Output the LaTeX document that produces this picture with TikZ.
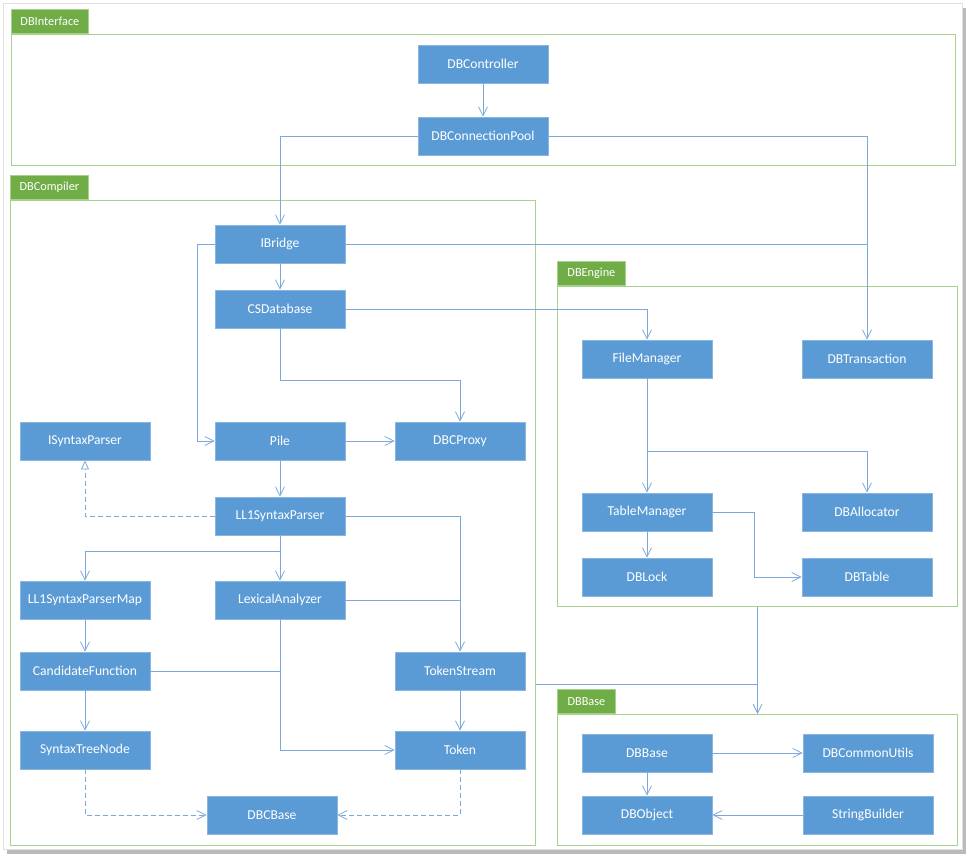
\documentclass[tikz,border=0pt]{standalone}
\usepackage{fontspec}
\setmainfont{Carlito}
\usetikzlibrary{arrows.meta,shadows,calc}
\definecolor{nodefill}{RGB}{91,155,213}
\definecolor{nodeedge}{RGB}{140,182,226}
\definecolor{connc}{RGB}{125,168,218}
\definecolor{pkgedge}{RGB}{169,209,142}
\definecolor{tabfill}{RGB}{112,173,71}
\tikzset{
  cls/.style={rectangle, fill=nodefill, draw=nodeedge, line width=0.8pt,
    minimum width=130pt, minimum height=38pt, inner sep=0pt,
    text=white, font=\fontsize{13.6}{16}\selectfont},
  pkg/.style={rectangle, draw=pkgedge, line width=1.2pt, fill=none,
    anchor=north west, inner sep=0pt},
  tab/.style={rectangle, fill=tabfill, draw=pkgedge, line width=0.8pt,
    anchor=south west, minimum height=24pt, inner sep=0pt,
    text=white, font=\fontsize{12.3}{14}\selectfont},
  wire/.style={draw=connc, line width=0.9pt},
  conn/.style={wire, -{Straight Barb[length=9pt,width=9pt,line width=0.8pt]}},
  dconn/.style={wire, dash pattern=on 5pt off 3pt, -{Straight Barb[length=9pt,width=9pt,line width=0.8pt]}},
  real/.style={wire, dash pattern=on 5pt off 3pt, -{Triangle[open,length=9pt,width=8pt,line width=0.8pt,fill=white]}},
}
\begin{document}
\begin{tikzpicture}[x=1pt,y=-1pt]
\useasboundingbox (0,0) rectangle (976,864);
% page
\path[fill=white, draw=black!12, line width=0.6pt,
  drop shadow={shadow xshift=4pt, shadow yshift=-5pt, opacity=0.45, fill=black!60}]
  (3,3) rectangle (962,849);
% packages
\node[pkg, minimum width=944pt, minimum height=131pt] (iface) at (11,34) {};
\node[tab, minimum width=77pt] (ifacetab) at (iface.north west) {DBInterface};
\node[pkg, minimum width=525pt, minimum height=645pt] (comp) at (10,200) {};
\node[tab, minimum width=78pt] (comptab) at (comp.north west) {DBCompiler};
\node[pkg, minimum width=400pt, minimum height=320pt] (engine) at (557,286) {};
\node[tab, minimum width=68pt] (enginetab) at (engine.north west) {DBEngine};
\node[pkg, minimum width=400pt, minimum height=131pt] (base) at (557,714) {};
\node[tab, minimum width=58pt] (basetab) at (base.north west) {DBBase};
% classes
\node[cls] (ctrl) at (483,64) {DBController};
\node[cls] (pool) at (483,136) {DBConnectionPool};
\node[cls] (ibridge) at (280,244) {IBridge};
\node[cls] (csdb) at (280,309) {CSDatabase};
\node[cls] (pile) at (280,441) {Pile};
\node[cls] (proxy) at (460,441) {DBCProxy};
\node[cls] (isp) at (85,441) {ISyntaxParser};
\node[cls] (ll1) at (280,516) {LL1SyntaxParser};
\node[cls] (map) at (85,600) {LL1SyntaxParserMap};
\node[cls] (lex) at (280,600) {LexicalAnalyzer};
\node[cls] (cand) at (85,671) {CandidateFunction};
\node[cls] (ts) at (460,671) {TokenStream};
\node[cls] (stn) at (85,750) {SyntaxTreeNode};
\node[cls] (token) at (460,750) {Token};
\node[cls] (dbcbase) at (272,815) {DBCBase};
\node[cls] (filemgr) at (647,359) {FileManager};
\node[cls] (trans) at (867,359) {DBTransaction};
\node[cls] (tablemgr) at (647,512) {TableManager};
\node[cls] (alloc) at (867,512) {DBAllocator};
\node[cls] (lock) at (647,577) {DBLock};
\node[cls] (dbtable) at (867,577) {DBTable};
\node[cls] (dbbase) at (647,753) {DBBase};
\node[cls] (utils) at (868,753) {DBCommonUtils};
\node[cls] (object) at (647,815) {DBObject};
\node[cls] (sb) at (868,815) {StringBuilder};
% helper coordinates
\coordinate (csturn) at (460,380);
\coordinate (j) at (757,684);
% connectors
\draw[conn] (ctrl) -- (pool);
\draw[conn] (pool.west) -| (ibridge.north);
\draw[conn] (pool.east) -| (trans.north);
\draw[wire] (ibridge.east) -- (ibridge.east -| trans.north);
\draw[conn] (ibridge) -- (csdb);
\draw[conn] (ibridge.west) -- ++(-17,0) |- (pile.west);
\draw[conn] (csdb.east) -| (filemgr.north);
\draw[conn] (csdb.south) |- (csturn) -- (proxy.north);
\draw[conn] (pile) -- (proxy);
\draw[conn] (pile) -- (ll1);
\draw[real] (ll1.west) -| (isp.south);
\draw[conn] (ll1.south) -- ++(0,16) -| (map.north);
\draw[conn] (ll1) -- (lex);
\draw[conn] (ll1.east) -| (ts.north);
\draw[wire] (lex.east) -- (lex.east -| ts.north);
\draw[conn] (map) -- (cand);
\draw[wire] (cand.east) -- (cand.east -| lex.south);
\draw[conn] (lex.south) |- (token.west);
\draw[conn] (cand) -- (stn);
\draw[conn] (ts) -- (token);
\draw[dconn] (stn.south) |- (dbcbase.west);
\draw[dconn] (token.south) |- (dbcbase.east);
\draw[conn] (filemgr) -- (tablemgr);
\draw[conn] (filemgr.south) -- ++(0,73) -| (alloc.north);
\draw[conn] (tablemgr) -- (lock);
\draw[conn] (tablemgr.east) -- ++(42,0) |- (dbtable.west);
\draw[wire] (comp.east |- j) -- (j);
\draw[conn] (engine.south) -- (base.north);
\draw[conn] (dbbase) -- (utils);
\draw[conn] (dbbase) -- (object);
\draw[conn] (sb) -- (object);
\end{tikzpicture}
\end{document}
